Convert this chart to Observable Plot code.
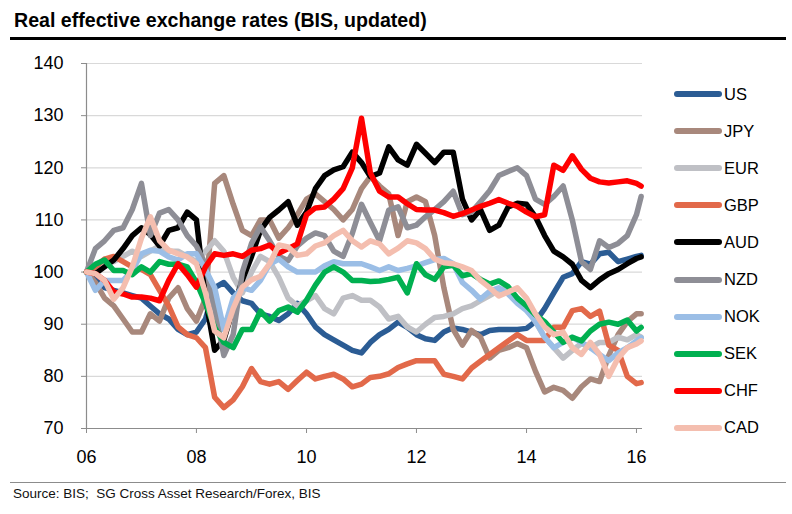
<!DOCTYPE html>
<html>
<head>
<meta charset="utf-8">
<script src="https://cdn.jsdelivr.net/npm/d3@7"></script>
<script src="https://cdn.jsdelivr.net/npm/@observablehq/plot@0.6"></script>
<style>
  html, body { margin: 0; padding: 0; background: #fff; }
  #page { position: relative; width: 792px; height: 514px; overflow: hidden; font-family: "Liberation Sans", Arial, sans-serif; color: #000; }
  #title { position: absolute; left: 14px; top: 11px; font-size: 19.6px; font-weight: bold; line-height: 19.6px; white-space: nowrap; }
  #rule { position: absolute; left: 10px; top: 37px; width: 776px; height: 3px; background: #000; }
  #chart { position: absolute; left: 0; top: 40px; }
  #legend .row { position: absolute; left: 674px; height: 20px; display: flex; align-items: center; font-size: 16.5px; }
  #legend .sw { display: inline-block; width: 48px; height: 6px; border-radius: 3px; margin-right: 2px; }
  #footrule { position: absolute; left: 10px; top: 482px; width: 776px; height: 1px; background: #8c8c8c; }
  #source { position: absolute; left: 13px; top: 486px; font-size: 13.5px; line-height: 16px; white-space: nowrap; color: #111; }
</style>
</head>
<body>
<div id="page">
  <div id="title">Real effective exchange rates (BIS, updated)</div>
  <div id="rule"></div>
  <div id="chart"></div>
  <div id="legend"></div>
  <div id="footrule"></div>
  <div id="source">Source: BIS;&nbsp; SG Cross Asset Research/Forex, BIS</div>
</div>
<script>
// ---- data (2-month steps) ----
const dates = [
  "2006-01","2006-03","2006-05","2006-07","2006-09","2006-11",
  "2007-01","2007-03","2007-05","2007-07","2007-09","2007-11",
  "2008-01","2008-03","2008-05","2008-07","2008-09","2008-11",
  "2009-01","2009-03","2009-05","2009-07","2009-09","2009-11",
  "2010-01","2010-03","2010-05","2010-07","2010-09","2010-11",
  "2011-01","2011-03","2011-05","2011-07","2011-09","2011-11",
  "2012-01","2012-03","2012-05","2012-07","2012-09","2012-11",
  "2013-01","2013-03","2013-05","2013-07","2013-09","2013-11",
  "2014-01","2014-03","2014-05","2014-07","2014-09","2014-11",
  "2015-01","2015-03","2015-05","2015-07","2015-09","2015-11",
  "2016-01","2016-02"
];
const seriesNames = ["US","JPY","EUR","GBP","AUD","NZD","NOK","SEK","CHF","CAD"];
const seriesColors = ["#2B5C94","#A8887C","#BFC0C5","#E2694A","#000000","#8E8E96","#9BBEE6","#00B050","#FF0000","#F4BEAF"];

const US  = [100,98.5,97,96.5,96,95.5,95,93.5,92,91,89,88,88.5,91,97,98,96,94.5,94,92,91.5,90.7,92,94,92,89.5,88,87,86,85,84.5,86.5,88,89,90.4,89.4,88,87.2,86.9,88.5,89.3,89,88.5,88,88.8,89,89,89,89.2,90.5,93,96,99,99.7,102,101.5,103.5,103.8,102,102.5,103,103.2];
const JPY = [100,98,95,93.5,91,88.5,88.5,92,90.6,95,97,93,90.6,95,117,118.5,113,108,107,110,110,106.5,108.5,111,114,115,113.5,112,110,112,116,118.3,116.5,115,107,113.5,114.4,113.5,107,97,89,86,88.8,87.5,83.5,85,85.5,86.3,85.5,81,77,77.9,77.3,75.8,78,79.5,79,84,88,90.5,92,92];
const EUR = [100,101,102.5,102,103,104,103,104,105,104,104,103,102,104,106,104,99,96,100,103,102,99,95,93.5,94.5,95.5,93,92,95,95.5,94.6,94.6,93.3,91,91.5,89.5,88.5,90,91.3,91.5,92,93,93.5,94.5,95.5,96.5,97,95,93,90.5,87.5,85.5,83.5,85,86.3,85.5,86.5,86.5,87.5,87,88,87.5];
const GBP = [100,101,102.5,103,102,101,100.5,99.5,96.5,93.5,89.5,88,87.4,85.5,76,74,75.5,78,81.5,79,78.5,79,77.5,79.2,80.8,79.5,80,80.4,79.5,78,78.5,79.8,80,80.5,81.7,82.4,83,83,83,80.4,80,79.5,81.6,82.9,84.2,85.5,86.8,88,86.9,86.9,86.9,89.4,89.4,92.6,93,91.5,92.5,86,85,80,78.6,78.8];
const AUD = [100,99.7,101,102.3,104.5,107,108.5,107.2,105,108,108.5,111.5,110,95,85,87,93,98.5,103,108,110.5,111.9,113.5,109,111.5,116,118.5,119.6,120.2,123,121,118.3,119,124,121.5,120.5,124.5,122.8,121,123,123,114,110,112,108,109,112.5,113.2,113,110.6,107,104,102.9,101.5,98.4,97,98.5,99.7,100.5,101.6,102.6,102.9];
const NZD = [100,104.5,106,108,108.5,112,117,107,111.3,112,110,107,105,101.5,93,84,88,100,105.5,108.7,106,103,102.2,105,106.5,107.5,107,104,103,107.4,113,109.5,106,111.9,112.5,108.5,109,110.6,112,113.5,115.5,111,111.5,113.5,115.6,118.5,119.3,120,118.5,114,113,114.5,116.5,110,102,100.5,106,104.7,105.5,107,111,114.5];
const NOK = [100,96.5,98.4,98.4,98.4,100.3,103.5,104.2,104,102.9,102.3,103.5,103.5,100.5,97,89,95,97,96.5,98.4,101.5,102.5,101,100,100,100,101.2,102,101.6,101.6,101.6,101,100.3,101,100.3,100.7,101.2,101.8,102.4,102.6,101.6,98,96.5,94.8,96.3,97,95.8,94,92.6,90.6,87.5,85.5,86.5,87.5,86.5,85.5,84.2,83,84.5,85.5,86.8,87.4];
const SEK = [100,101.5,102.3,100.3,100.3,99.5,101,100,102,101.5,101.5,101,98,94,89.4,86.5,85.5,89,89,92.5,90.6,92.6,93.3,92.3,94.6,97.5,100,101,100,98.4,98.4,98.2,98.3,98.6,99,96,101.6,99.5,98.6,101,101.3,99.3,99.7,98.6,97.7,98.3,97.2,95,93.5,91.8,90.5,88.5,86.5,87.5,86.8,88.7,90,90.4,90,90.8,88.7,89.4];
const CHF = [100,99.7,98.4,96.2,95.8,95.2,95.2,95,94.5,98.4,101.6,99.5,97.1,101,103.5,103.2,103.5,103,104.2,104.5,105.2,103.6,104.5,105.4,111,112.3,112.5,114,116,120,129.5,119,115.5,114.4,114.4,113.1,112,111.9,111.9,111.4,110.7,111.2,111.9,112.6,113.2,113.9,113.2,112.6,111.5,110.6,111,120.5,119.5,122.3,119.7,118,117.3,117.1,117.3,117.5,117,116.5];
const CAD = [100,99.7,98.4,94.8,97,101,106.5,110.6,106,104.2,103.5,102.9,101.6,96,88.7,87.4,93,97.1,98.5,99.2,101.6,105.2,104.8,103.2,103.5,105,105.6,107,108,106,104.8,106,105.4,103.5,104.6,106,105.6,104.5,102.5,101.8,101.6,101,100.3,98.4,97,95.4,96.2,97,95,92,89.5,88,88.5,85.5,84.2,86.5,84.2,80,83.5,85.5,86.2,86.8];

const yTicks = [70,80,90,100,110,120,130,140];
const xTickYears = ["2006","2008","2010","2012","2014","2016"];

// ---- build ----
const seriesValues = [US,JPY,EUR,GBP,AUD,NZD,NOK,SEK,CHF,CAD];
const parse = d3.utcParse("%Y-%m");
const parsedDates = dates.map(parse);
const xTicks = xTickYears.map(d3.utcParse("%Y"));

const lineMarks = seriesNames.map((name, k) => {
  const rows = parsedDates.map((d, i) => ({date: d, value: seriesValues[k][i]}));
  return Plot.lineY(rows, {x: "date", y: "value", stroke: seriesColors[k], strokeWidth: 5.5, strokeLinejoin: "round", strokeLinecap: "round"});
});

const xDomain = [parse("2006-01"), new Date(Date.UTC(2016, 1, 10))];

const chart = Plot.plot({
  width: 660,
  height: 433,
  marginLeft: 86,
  marginRight: 18,
  marginTop: 23,
  marginBottom: 45,
  style: {fontFamily: '"Liberation Sans", Arial, sans-serif', background: "transparent", color: "#000"},
  x: {type: "utc", domain: xDomain},
  y: {domain: [70, 140]},
  marks: [
    Plot.gridY(yTicks.filter(t => t > 70), {stroke: "#d9d9d9", strokeOpacity: 1, strokeWidth: 1.2}),
    Plot.ruleY([70], {stroke: "#8c8c8c", strokeWidth: 1.2}),
    Plot.ruleX([xDomain[0]], {stroke: "#8c8c8c", strokeWidth: 1.2}),
    Plot.axisY(yTicks, {tickSize: 5, tickPadding: 18, fontSize: 18, stroke: "#8c8c8c", color: "#000", label: null}),
    Plot.axisX(xTicks, {tickSize: 5, tickPadding: 17, fontSize: 18, stroke: "#8c8c8c", color: "#000", label: null, tickFormat: d3.utcFormat("%y")}),
    ...lineMarks
  ]
});
document.getElementById("chart").appendChild(chart);

// ---- legend ----
const legend = document.getElementById("legend");
seriesNames.forEach((name, k) => {
  const row = document.createElement("div");
  row.className = "row";
  row.style.top = (94 + 37.1 * k - 10) + "px";
  const sw = document.createElement("span");
  sw.className = "sw";
  sw.style.background = seriesColors[k];
  const lab = document.createElement("span");
  lab.textContent = name;
  row.appendChild(sw);
  row.appendChild(lab);
  legend.appendChild(row);
});
</script>
</body>
</html>
